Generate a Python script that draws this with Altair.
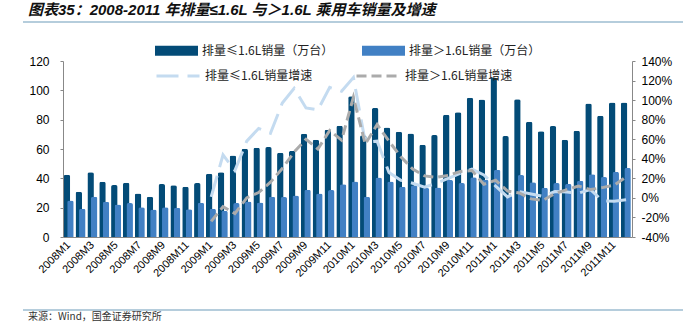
import altair as alt
import pandas as pd

months = [f"{y}M{m}" for y in range(2008, 2012) for m in range(1, 13)]
label_months = months[::2]
growth_months = months[12:]

small_sales = [
    42.5, 30.9, 44.1, 37.7, 35.4, 37.0, 29.7, 27.4, 36.1, 35.2, 34.3, 36.8,
    43.2, 44.1, 55.5, 60.1, 60.8, 61.3, 57.4, 58.7, 70.4, 66.3, 73.1, 75.9,
    96.0, 69.3, 88.0, 74.7, 71.8, 70.6, 62.9, 69.5, 83.4, 85.0, 95.0, 93.8,
    108.7, 68.8, 94.0, 78.5, 72.1, 75.6, 66.3, 72.4, 91.0, 82.6, 91.7, 91.7,
]
large_sales = [
    24.9, 19.2, 27.4, 24.0, 22.2, 23.1, 20.3, 18.7, 20.3, 19.9, 19.0, 23.3,
    19.2, 17.8, 23.1, 24.2, 23.5, 27.4, 27.2, 28.3, 32.2, 29.7, 32.0, 35.9,
    37.9, 27.4, 40.5, 37.9, 34.3, 35.2, 33.4, 33.8, 38.9, 36.8, 40.7, 39.0,
    45.8, 28.2, 42.2, 37.3, 33.5, 36.8, 36.2, 38.4, 42.7, 40.9, 44.4, 47.1,
]
small_growth = [
    1, 44, 28, 58, 71, 66, 97, 112, 92, 90, 113, 109,
    123, 57, 58, 26, 18, 15, 11, 15, 20, 25, 29.5, 23.5,
    12, 1, 6.5, 4, 1.5, 6.5, 6, 5, 8.5, -3, -3.5, -2,
]
large_growth = [
    -24, -9, -16, 0, 5.5, 16, 30, 47, 60, 50, 69, 59,
    103, 55, 75, 58, 42, 29.5, 22.5, 21, 23, 27, 28, 14,
    18, 7, 5, -1, -2.5, 4.5, 8.5, 12, 8.5, 10.5, 13, 21.5,
]

S1 = "排量≤1.6L销量（万台）"
S2 = "排量＞1.6L销量（万台）"
G1 = "排量≤1.6L销量增速"
G2 = "排量＞1.6L销量增速"
TITLE = "图表35：2008-2011 年排量≤1.6L 与＞1.6L 乘用车销量及增速"
SOURCE = "来源：Wind，国金证券研究所"

DARK = "#034B77"
LIGHT = "#4180C4"
LBLUE = "#C4DBF0"
GREY = "#ABABAB"
RULE = "#9DBCD0"
CJK = "Noto Sans CJK SC"
LAT = "Liberation Sans"

bar_df = pd.DataFrame({
    "month": months * 2,
    "series": [S1] * len(months) + [S2] * len(months),
    "value": small_sales + large_sales,
})
line_df = pd.DataFrame({
    "month": growth_months * 2,
    "series": [G1] * len(growth_months) + [G2] * len(growth_months),
    "value": small_growth + large_growth,
})

x_enc = alt.X(
    "month:N",
    scale=alt.Scale(domain=months, paddingInner=0, paddingOuter=0),
    axis=alt.Axis(
        title=None, values=label_months, labelAngle=315, labelAlign="right",
        labelBaseline="middle", labelFont=LAT, labelFontSize=11, labelColor="#000",
        ticks=False, domainColor="#888", labelPadding=6,
    ),
)

leg_bar = alt.Legend(
    title=None, orient="none", legendX=92, legendY=-32, direction="horizontal",
    symbolType="M-1,-0.23H1V0.23H-1Z", symbolSize=1849, symbolStrokeWidth=0,
    labelFont=CJK, labelFontSize=12, labelColor="#222", labelOffset=4,
    columnPadding=28, labelLimit=300,
)
leg_line = alt.Legend(
    title=None, orient="none", legendX=92, legendY=-8, direction="horizontal",
    symbolType="stroke", symbolSize=1849, symbolStrokeWidth=3,
    labelFont=CJK, labelFontSize=12, labelColor="#222", labelOffset=4,
    columnPadding=37, labelLimit=300,
)

bar_base = alt.Chart(bar_df).encode(
    x=x_enc,
    y=alt.Y(
        "value:Q",
        scale=alt.Scale(domain=[0, 120], nice=False),
        axis=alt.Axis(
            title=None, values=list(range(0, 121, 20)), grid=False, orient="left",
            labelFont=LAT, labelFontSize=12, labelColor="#000", domainColor="#888",
            tickColor="#888", tickSize=3, labelPadding=11,
        ),
    ),
    fill=alt.Fill("series:N", scale=alt.Scale(domain=[S1, S2], range=[DARK, LIGHT]), legend=leg_bar),
)
dark = bar_base.mark_bar(width=6.5, xOffset=-2, cornerRadiusTopLeft=2, cornerRadiusTopRight=2).transform_filter(
    alt.datum.series == S1)
light = bar_base.mark_bar(width=6.5, xOffset=1.5, cornerRadiusTopLeft=2, cornerRadiusTopRight=2).transform_filter(
    alt.datum.series == S2)
bars = alt.layer(dark, light)

lines = alt.Chart(line_df).mark_line(strokeWidth=3).encode(
    x=x_enc,
    y=alt.Y(
        "value:Q",
        scale=alt.Scale(domain=[-40, 140], nice=False),
        axis=alt.Axis(
            title=None, values=list(range(-40, 141, 20)), grid=False, orient="right",
            labelExpr="datum.value + '%'", labelFont=LAT, labelFontSize=12, labelColor="#000",
            domainColor="#888", tickColor="#888", tickSize=3, labelPadding=6,
        ),
    ),
    stroke=alt.Stroke("series:N", scale=alt.Scale(domain=[G1, G2], range=[LBLUE, GREY]), legend=leg_line),
    strokeDash=alt.StrokeDash("series:N", scale=alt.Scale(domain=[G1, G2], range=[[22, 9], [10, 5]]), legend=leg_line),
)

ann_df = pd.DataFrame({"title": [TITLE], "source": [SOURCE]})
title = alt.Chart(ann_df).mark_text(
    align="left", baseline="middle", fontSize=15, fontWeight="bold", fontStyle="italic",
    font=f"{LAT}, {CJK}", color="#111",
).encode(text="title:N", x=alt.value(-35), y=alt.value(-51))
source = alt.Chart(ann_df).mark_text(
    align="left", baseline="bottom", fontSize=10, font=CJK, color="#333",
).encode(text="source:N", x=alt.value(-35), y=alt.value(261))
rule_top = alt.Chart(ann_df).mark_rule(color=RULE, strokeWidth=1.5).encode(
    x=alt.value(-40), x2=alt.value(620), y=alt.value(-39))
rule_bot = alt.Chart(ann_df).mark_rule(color=RULE, strokeWidth=1.5).encode(
    x=alt.value(-40), x2=alt.value(620), y=alt.value(249))

chart = alt.layer(bars, lines, title, source, rule_top, rule_bot).resolve_scale(
    y="independent"
).properties(
    width=569, height=176,
    autosize=alt.AutoSizeParams(type="none"),
    padding={"left": 63, "top": 61, "right": 68, "bottom": 86},
    background="white",
).configure_view(stroke=None)

chart.save("out.html", embed_options={"renderer": "svg", "actions": False})
